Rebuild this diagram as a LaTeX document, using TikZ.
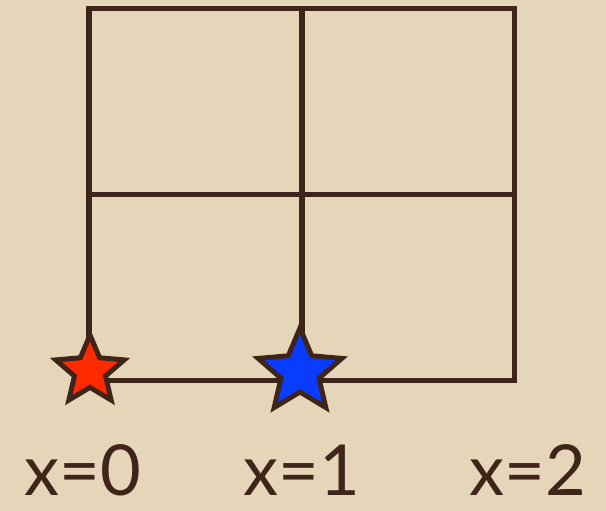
\documentclass[tikz,border=0pt]{standalone}
\usepackage{fontspec}
\setmainfont{Lato}
\usepackage{xcolor}
\usetikzlibrary{positioning,shapes.geometric}
\definecolor{parch}{HTML}{E6D6B9}
\definecolor{ink}{HTML}{3F2519}
\definecolor{redstar}{HTML}{FF2A00}
\definecolor{bluestar}{HTML}{0A3CFF}

\begin{document}
\begin{tikzpicture}[
  line width=2.85pt, line join=miter,
  wire/.style={draw=ink},
  pt/.style={star, star points=5, star point ratio=2.2, draw=ink, line width=2.8pt, inner sep=0pt},
  lbl/.style={text=ink, font=\fontsize{40}{40}\selectfont, inner sep=0pt}]
  \fill[parch] (0,0) rectangle (12.12,10.22);
  \useasboundingbox (0,0) rectangle (12.12,10.22);
  \coordinate (sw) at (1.78,2.6);
  \coordinate (ne) at (10.28,10.04);
  \coordinate (mid) at (6.04,6.32);
  \draw[wire] (sw) rectangle (ne);
  \draw[wire] (mid |- sw) -- (mid |- ne);
  \draw[wire] (sw |- mid) -- (ne |- mid);
  \node[pt, fill=redstar, minimum size=1.44cm] (s0) at (1.8,2.8) {};
  \node[pt, fill=bluestar, minimum size=1.76cm] (s1) at (6.0,2.78) {};
  \node[lbl, anchor=base] (x0) at (1.66,0.3) {x=0};
  \node[lbl, anchor=base] (x1) at (6.04,0.3) {x=1};
  \node[lbl, anchor=base] (x2) at (10.56,0.3) {x=2};
\end{tikzpicture}
\end{document}
